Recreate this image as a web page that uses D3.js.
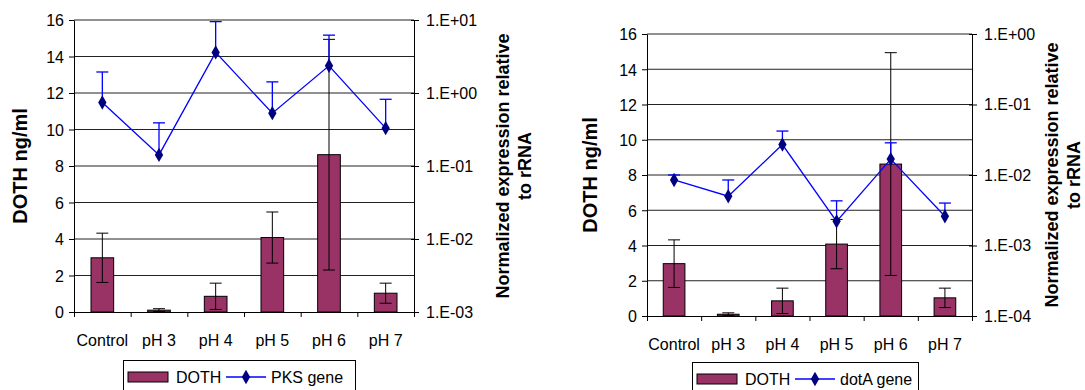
<!DOCTYPE html>
<html>
<head>
<meta charset="utf-8">
<script src="https://cdn.jsdelivr.net/npm/d3@7"></script>
<style>
  body { margin: 0; background: #fff; }
  svg { display: block; font-family: "Liberation Sans", Arial, sans-serif; }
  .axis text { font-size: 16px; fill: #000; }
  .axis line, .axis path { stroke: #000; }
</style>
</head>
<body>
<svg id="chart" width="1085" height="390"></svg>
<script>
const categories = ["Control", "pH 3", "pH 4", "pH 5", "pH 6", "pH 7"];

// DOTH concentration (ng/ml), same in both panels
const dothValues = [2.97, 0.1, 0.86, 4.08, 8.62, 1.03];
const dothErrors = [1.35, 0.08, 0.72, 1.4, 6.32, 0.55];

// PKS gene expression (left panel), upper error bar ends
const pksValues = [0.74, 0.142, 3.6, 0.53, 2.36, 0.33];
const pksErrorTops = [1.94, 0.39, 9.5, 1.42, 6.2, 0.82];

// dotA gene expression (right panel), upper error bar ends
const dotaValues = [0.0085, 0.005, 0.027, 0.0022, 0.0168, 0.0026];
const dotaErrorTops = [0.0100, 0.0085, 0.042, 0.0043, 0.0286, 0.0040];

const leftTicks = [0, 2, 4, 6, 8, 10, 12, 14, 16];
const pksTicks = [1e-3, 1e-2, 1e-1, 1, 10];
const dotaTicks = [1e-4, 1e-3, 1e-2, 1e-1, 1];

const BAR = "#993366";
const LINE = "#0000ff";
const MARK = "#000080";

const svg = d3.select("#chart");

function sciLabel(v) {
    const e = Math.round(Math.log10(v));
    const s = e < 0 ? "-" : "+";
    return "1.E" + s + String(Math.abs(e)).padStart(2, "0");
}

function drawPanel(p) {
    const g = svg.append("g");
    const x = d3.scaleBand().domain(categories).range([p.x0, p.x1]);
    const xEdge = d3.scaleLinear().domain([0, categories.length]).range([p.x0, p.x1]);
    const y = d3.scaleLinear().domain([0, 16]).range([p.y1, p.y0]);
    const y2 = d3.scaleLog().domain(p.logDomain).range([p.y1, p.y0]);
    const bw = x.bandwidth() * 0.4;
    const cx = (c) => x(c) + x.bandwidth() / 2;

    // grid
    g.selectAll(".grid")
        .data(leftTicks.slice(1))
        .enter()
        .append("line")
        .attr("x1", p.x0).attr("x2", p.x1)
        .attr("y1", (d) => y(d)).attr("y2", (d) => y(d))
        .attr("stroke", "#222").attr("stroke-width", 1);

    // bars
    g.selectAll(".bar")
        .data(dothValues)
        .enter()
        .append("rect")
        .attr("x", (d, i) => cx(categories[i]) - bw / 2)
        .attr("width", bw)
        .attr("y", (d) => y(d))
        .attr("height", (d) => y(0) - y(d))
        .attr("fill", BAR)
        .attr("stroke", "#000").attr("stroke-width", 1);

    // DOTH error bars
    const eb = g.selectAll(".eb").data(dothValues).enter().append("g");
    eb.append("line")
        .attr("x1", (d, i) => cx(categories[i])).attr("x2", (d, i) => cx(categories[i]))
        .attr("y1", (d, i) => y(Math.max(0, d - dothErrors[i])))
        .attr("y2", (d, i) => y(d + dothErrors[i]))
        .attr("stroke", "#000");
    eb.append("line")
        .attr("x1", (d, i) => cx(categories[i]) - 6).attr("x2", (d, i) => cx(categories[i]) + 6)
        .attr("y1", (d, i) => y(d + dothErrors[i])).attr("y2", (d, i) => y(d + dothErrors[i]))
        .attr("stroke", "#000");
    eb.append("line")
        .attr("x1", (d, i) => cx(categories[i]) - 6).attr("x2", (d, i) => cx(categories[i]) + 6)
        .attr("y1", (d, i) => y(Math.max(0, d - dothErrors[i])))
        .attr("y2", (d, i) => y(Math.max(0, d - dothErrors[i])))
        .attr("stroke", "#000");

    // gene line
    const line = d3.line().x((d, i) => cx(categories[i])).y((d) => y2(d));
    g.append("path")
        .datum(p.gene)
        .attr("d", line)
        .attr("fill", "none")
        .attr("stroke", LINE).attr("stroke-width", 1.3);

    const gb = g.selectAll(".gb").data(p.gene).enter().append("g");
    gb.append("line")
        .attr("x1", (d, i) => cx(categories[i])).attr("x2", (d, i) => cx(categories[i]))
        .attr("y1", (d) => y2(d)).attr("y2", (d, i) => y2(p.geneTops[i]))
        .attr("stroke", LINE).attr("stroke-width", 1.3);
    gb.append("line")
        .attr("x1", (d, i) => cx(categories[i]) - 6).attr("x2", (d, i) => cx(categories[i]) + 6)
        .attr("y1", (d, i) => y2(p.geneTops[i])).attr("y2", (d, i) => y2(p.geneTops[i]))
        .attr("stroke", LINE).attr("stroke-width", 1.3);

    g.selectAll(".mk")
        .data(p.gene)
        .enter()
        .append("path")
        .attr("d", d3.symbol(d3.symbolDiamond, 60))
        .attr("transform", (d, i) => `translate(${cx(categories[i])},${y2(d)})`)
        .attr("fill", MARK);

    // axes
    g.append("g")
        .attr("class", "axis")
        .attr("transform", `translate(${p.x0},0)`)
        .call(d3.axisLeft(y).tickValues(leftTicks).tickSize(5).tickSizeOuter(0).tickPadding(5))
        .call((a) => a.selectAll("text").attr("dy", "0.36em"));

    const ra = g.append("g")
        .attr("class", "axis")
        .attr("transform", `translate(${p.x1},0)`)
        .call(d3.axisRight(y2).tickValues(p.logTicks).tickFormat(sciLabel).tickSize(5).tickSizeOuter(0).tickPadding(7));
    ra.selectAll(".tick line").attr("x1", -3);

    g.append("g")
        .attr("class", "axis")
        .attr("transform", `translate(0,${p.y1})`)
        .call(d3.axisBottom(xEdge).tickValues(d3.range(categories.length + 1)).tickFormat("").tickSize(5).tickSizeOuter(0));

    g.append("g")
        .attr("class", "axis")
        .attr("transform", `translate(0,${p.y1})`)
        .call(d3.axisBottom(x).tickSize(0).tickPadding(p.labelPad))
        .call((a) => a.select(".domain").remove());

    // titles
    g.append("text")
        .attr("transform", `translate(${p.leftTitleX},${(p.y0 + p.y1) / 2}) rotate(-90)`)
        .attr("text-anchor", "middle")
        .attr("dy", "0.36em")
        .style("font-size", "20px").style("font-weight", "bold")
        .text("DOTH ng/ml");

    const rt = g.append("text")
        .attr("transform", `translate(${p.rightTitleX},${(p.y0 + p.y1) / 2}) rotate(-90)`)
        .attr("text-anchor", "middle")
        .style("font-size", "18px").style("font-weight", "bold");
    rt.append("tspan").attr("x", 0).attr("dy", "0.36em").text("Normalized expression relative");
    rt.append("tspan").attr("x", 0).attr("dy", "1.2em").text("to rRNA");

    // legend
    const L = g.append("g").attr("transform", `translate(${p.legX},${p.legY})`);
    L.append("rect")
        .attr("x", 0.5).attr("y", 0.5).attr("width", p.legW).attr("height", 30)
        .attr("fill", "#fff").attr("stroke", "#000");
    L.append("rect")
        .attr("x", 5).attr("y", 12).attr("width", 40).attr("height", 10)
        .attr("fill", BAR).attr("stroke", "#000");
    L.append("text").attr("x", 53).attr("y", 23).style("font-size", "16px").text("DOTH");
    L.append("line")
        .attr("x1", 103).attr("x2", 143).attr("y1", 17).attr("y2", 17)
        .attr("stroke", LINE).attr("stroke-width", 1.3);
    L.append("path")
        .attr("d", d3.symbol(d3.symbolDiamond, 60))
        .attr("transform", "translate(123,17)")
        .attr("fill", MARK);
    L.append("text").attr("x", 148).attr("y", 23).style("font-size", "16px").text(p.geneName);
}

drawPanel({
    x0: 74, x1: 414, y0: 20, y1: 312,
    logDomain: [1e-3, 10], logTicks: pksTicks,
    gene: pksValues, geneTops: pksErrorTops, geneName: "PKS gene",
    labelPad: 23, leftTitleX: 20, rightTitleX: 503,
    legX: 123, legY: 360, legW: 232
});

drawPanel({
    x0: 647, x1: 972, y0: 34, y1: 316,
    logDomain: [1e-4, 1], logTicks: dotaTicks,
    gene: dotaValues, geneTops: dotaErrorTops, geneName: "dotA gene",
    labelPad: 23, leftTitleX: 590, rightTitleX: 1052,
    legX: 692, legY: 362, legW: 226
});
</script>
</body>
</html>
